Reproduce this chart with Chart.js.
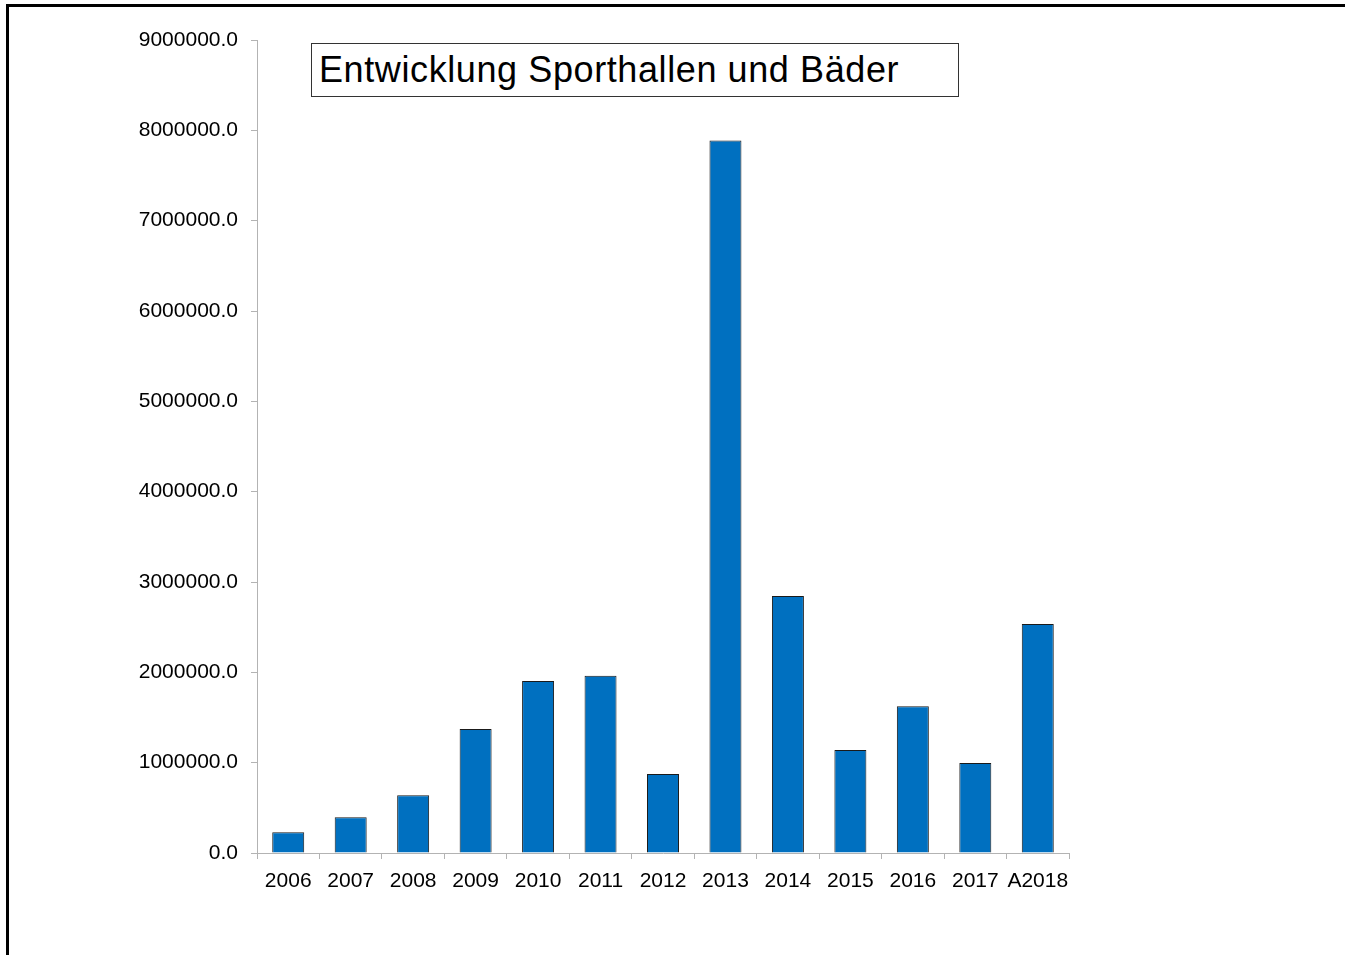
<!DOCTYPE html>
<html>
<head>
<meta charset="utf-8">
<script src="https://cdn.jsdelivr.net/npm/chart.js@4/dist/chart.umd.min.js"></script>
<style>
  html, body { margin: 0; padding: 0; background: #fff; overflow: hidden; }
  #wrap { position: relative; width: 1345px; height: 955px; }
  #frame {
    position: absolute; left: 6px; top: 4px; width: 1400px; height: 1000px;
    border: 3px solid #000; box-sizing: border-box;
  }
  #title {
    position: absolute; left: 311px; top: 43px; width: 648px; height: 54px;
    box-sizing: border-box; border: 1px solid #333; background: #fff;
    font-family: "Liberation Sans", Arial, sans-serif; font-size: 36px;
    letter-spacing: 0.6px;
    line-height: 51px; padding-left: 7px; color: #000; white-space: nowrap;
  }
  canvas { position: absolute; left: 0; top: 0; }
</style>
</head>
<body>
<div id="wrap">
  <div id="frame"></div>
  <canvas id="chart" width="1345" height="955"></canvas>
  <div id="title">Entwicklung Sporthallen und Bäder</div>
</div>
<script>
  // categories and values
  const years = ['2006', '2007', '2008', '2009', '2010', '2011', '2012', '2013', '2014', '2015', '2016', '2017', 'A2018'];
  const amounts = [229000, 395000, 639000, 1373000, 1904000, 1963000, 875000, 7888000, 2845000, 1140000, 1624000, 996000, 2535000];
  const yMax = 9000000;
  const yStep = 1000000;

  const axisFont = { family: '"Liberation Sans", Arial, sans-serif', size: 21 };

  new Chart(document.getElementById('chart'), {
    type: 'bar',
    data: {
      labels: years,
      datasets: [{
        data: amounts,
        backgroundColor: '#0070C0',
        borderColor: '#1a1a1a',
        borderWidth: 1,
        categoryPercentage: 1,
        barPercentage: 0.512
      }]
    },
    options: {
      responsive: false,
      animation: false,
      layout: { padding: { left: 0, right: 276, top: 40, bottom: 0 } },
      plugins: {
        legend: { display: false },
        title: { display: false },
        tooltip: { enabled: false }
      },
      scales: {
        x: {
          grid: { display: true, drawOnChartArea: false, offset: true, tickLength: 6, color: '#b3b3b3' },
          border: { color: '#b3b3b3', width: 1 },
          ticks: { color: '#000', font: axisFont, padding: 10, maxRotation: 0, autoSkip: false },
          afterFit: function(scale) { scale.height = 102; }
        },
        y: {
          min: 0,
          max: yMax,
          grid: { display: true, drawOnChartArea: false, tickLength: 6, color: '#b3b3b3' },
          border: { color: '#b3b3b3', width: 1 },
          ticks: {
            stepSize: yStep,
            color: '#000',
            font: axisFont,
            padding: 13,
            callback: function(value) { return value.toFixed(1); }
          },
          afterFit: function(scale) { scale.width = 257; }
        }
      }
    }
  });
</script>
</body>
</html>
